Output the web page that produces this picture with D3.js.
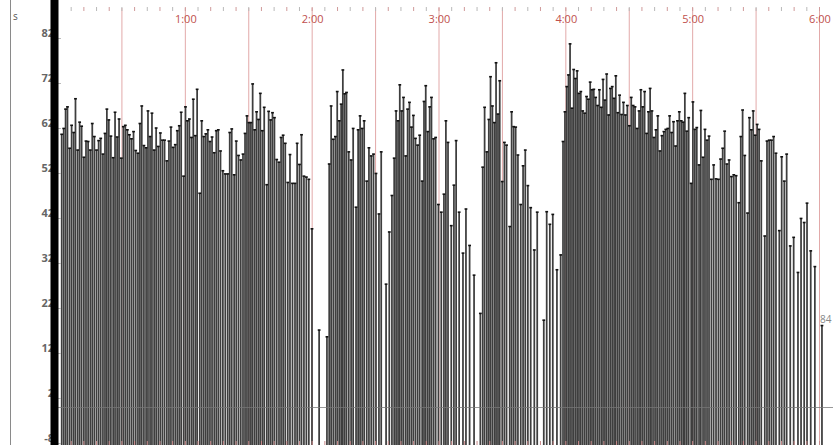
<!DOCTYPE html>
<html>
<head>
<meta charset="utf-8">
<script src="https://cdn.jsdelivr.net/npm/d3@7/dist/d3.min.js"></script>
<style>
  body { margin: 0; background: #fff; }
  svg { display: block; }
</style>
</head>
<body>
<script>
// beat-by-beat rate, one value per beat (interval to previous beat ~ 60 / value)
var bpm = [
  60.6, 61.9, 66.2, 66.7, 57.5, 62.6, 61.0, 68.5, 57.1, 63.3,
  62.4, 55.5, 59.1, 59.0, 57.1, 63.0, 60.1, 57.1, 59.2, 59.7,
  56.2, 60.8, 66.2, 63.8, 60.2, 55.4, 65.5, 60.0, 64.0, 55.3,
  62.3, 62.6, 61.6, 60.5, 59.6, 61.2, 57.0, 56.4, 63.0, 66.9,
  58.1, 57.6, 65.8, 60.1, 65.3, 57.1, 62.0, 57.9, 60.9, 59.3,
  59.3, 54.7, 59.1, 62.2, 57.7, 58.3, 61.4, 62.5, 65.5, 51.3,
  66.7, 63.6, 64.0, 59.9, 68.4, 60.3, 70.6, 47.5, 63.6, 60.1,
  60.7, 61.6, 59.0, 60.0, 56.5, 61.4, 61.6, 56.9, 52.5, 51.8,
  51.8, 61.0, 61.8, 51.6, 59.1, 55.9, 54.9, 56.2, 60.8, 64.7,
  63.2, 63.2, 71.8, 61.6, 65.6, 63.9, 69.7, 61.4, 66.6, 49.4,
  65.7, 63.8, 65.4, 64.3, 55.0, 54.4, 59.9, 60.4, 58.6, 49.9,
  56.1, 49.7, 49.7, 58.6, 53.9, 60.5, 51.3, 51.1, 50.6, 39.6,
  17.1, 15.6,
  54.0, 66.9, 59.5, 60.1, 70.1, 63.6, 67.3, 74.9, 69.6, 69.9,
  56.7, 54.9, 61.9, 44.4, 61.6, 64.7, 61.9, 63.6, 50.2, 57.6,
  55.8, 56.2, 51.9, 42.9, 56.7,
  27.3, 38.9, 47.0, 55.3, 65.8, 63.6, 71.6, 65.8, 68.8, 55.8,
  66.2, 67.7, 62.2, 64.8, 59.7, 58.2, 60.4, 50.2, 67.9, 71.4,
  61.2, 66.7, 68.8, 59.6, 59.9, 45.0, 43.3, 47.3, 63.6, 58.8,
  40.3, 49.3, 59.2, 43.3, 34.2, 44.0, 35.9, 29.3,
  20.8,
  53.3, 66.6, 56.7, 63.9, 73.4, 66.9, 63.2, 76.5, 65.1, 72.5,
  50.1, 58.8, 58.2, 40.1, 65.6, 62.3, 62.2, 56.0, 45.0, 53.6,
  57.1, 49.2, 44.3, 34.9, 43.3,
  19.3, 43.4, 40.6, 42.8, 30.5, 33.8,
  59.0, 65.6, 71.2, 73.8, 80.7, 66.4, 75.0, 73.0, 74.7, 69.7,
  70.1, 65.8, 65.3, 69.0, 68.4, 72.2, 70.5, 70.6, 68.8, 67.0,
  70.5, 66.6, 72.8, 68.2, 74.0, 64.9, 70.8, 71.2, 68.6, 73.6,
  65.4, 69.3, 65.0, 67.7, 64.9, 67.0, 62.5, 68.8, 67.0, 66.7,
  61.9, 65.8, 70.5, 66.7, 70.1,
  60.8, 65.6, 70.8, 65.8, 59.9, 61.6, 64.7, 56.9, 60.3, 61.2,
  61.7, 61.9, 64.7, 61.0, 63.4, 58.0, 63.6, 65.6, 63.6, 63.3,
  69.7, 61.3, 64.3, 49.7, 67.8, 61.7, 62.1, 53.8, 65.9, 55.5,
  61.7, 59.3, 60.2, 50.6, 53.8, 50.7, 50.6, 55.1, 57.5, 61.3,
  54.0, 54.9, 51.2, 51.6, 51.4, 45.4, 60.1, 66.0, 55.9, 43.1,
  64.3, 61.6, 65.8, 60.4, 62.8, 61.7, 54.7,
  38.0, 59.1, 59.3, 59.3, 60.1, 56.4, 39.2, 55.6, 50.2, 56.2,
  35.8, 37.7, 29.9, 41.9, 41.0, 45.3, 34.7, 31.2, 18.1
];
var anchorBeat = [0, 119, 122, 146, 147, 176, 185, 210, 216, 217, 261, 318, 328, 337];
var anchorSec = [1.75, 120.15, 128.3, 152.9, 155.2, 184.5, 199.8, 226.7, 237.8, 238.9, 277.5, 332.7, 344.7, 361.4];

var yTicks = [82, 72, 62, 52, 42, 32, 22, 12, 2, -8];
var minuteLabels = ["1:00", "2:00", "3:00", "4:00", "5:00", "6:00"];
var unitLabel = "s";
var lastValueLabel = "84";

var width = 833, height = 445;

var svg = d3.select("body").append("svg")
  .attr("width", width)
  .attr("height", height);

var x = d3.scaleLinear().domain([0, 360]).range([58, 819]);
var y = d3.scaleLinear().domain([-8, 82]).range([443, 38]);

// beat times: cumulative 60/value, fitted between the read anchors
var cum = [0];
for (var i = 1; i < bpm.length; i++) cum.push(cum[i - 1] + 60 / bpm[i]);
var timeOf = d3.scaleLinear()
  .domain(anchorBeat.map(function (b) { return cum[b]; }))
  .range(anchorSec);
var beats = bpm.map(function (v, i) { return { t: timeOf(cum[i]), v: v }; });

// left border line
svg.append("line")
  .attr("x1", 10.5).attr("x2", 10.5)
  .attr("y1", 0).attr("y2", height)
  .attr("stroke", "#8a8a8a").attr("stroke-width", 1);

svg.append("text")
  .attr("x", 13).attr("y", 20)
  .attr("font-family", "Open Sans, sans-serif")
  .attr("font-size", 10)
  .attr("fill", "#555")
  .text(unitLabel);

// y labels (partly hidden by the black band)
svg.selectAll(".ylab").data(yTicks).enter().append("text")
  .attr("class", "ylab")
  .attr("x", 54)
  .attr("y", function (d) { return y(d) - 1; })
  .attr("text-anchor", "end")
  .attr("font-family", "Open Sans, sans-serif")
  .attr("font-size", 11)
  .attr("font-weight", "bold")
  .attr("fill", "#666")
  .text(function (d) { return d; });

// 30 s grid lines
var halfMinutes = d3.range(30, 361, 30);
svg.selectAll(".grid").data(halfMinutes).enter().append("line")
  .attr("class", "grid")
  .attr("x1", function (d) { return x(d) + 0.5; })
  .attr("x2", function (d) { return x(d) + 0.5; })
  .attr("y1", 8).attr("y2", height)
  .attr("stroke", "#e2a9a9").attr("stroke-width", 1);

// small ticks every 6 s, top and bottom
var smallTicks = d3.range(6, 366, 6);
svg.selectAll(".ttick").data(smallTicks).enter().append("line")
  .attr("class", "ttick")
  .attr("x1", function (d) { return x(d) + 0.5; })
  .attr("x2", function (d) { return x(d) + 0.5; })
  .attr("y1", 7).attr("y2", 11)
  .attr("stroke", function (d, i) { return i % 2 ? "#cf9a9a" : "#b9b9b9"; })
  .attr("stroke-width", 1);

// beats
var g = svg.append("g");
g.selectAll(".bar").data(beats).enter().append("line")
  .attr("class", "bar")
  .attr("x1", function (d) { return x(d.t); })
  .attr("x2", function (d) { return x(d.t); })
  .attr("y1", function (d) { return y(d.v); })
  .attr("y2", height)
  .attr("stroke", "#3e3e3e")
  .attr("stroke-width", 1.75);

g.selectAll(".cap").data(beats).enter().append("line")
  .attr("class", "cap")
  .attr("x1", function (d) { return x(d.t) - 1.4; })
  .attr("x2", function (d) { return x(d.t) + 1.4; })
  .attr("y1", function (d) { return y(d.v); })
  .attr("y2", function (d) { return y(d.v); })
  .attr("stroke", "#111")
  .attr("stroke-width", 1.6);

svg.selectAll(".btick").data(smallTicks).enter().append("line")
  .attr("class", "btick")
  .attr("x1", function (d) { return x(d) + 0.5; })
  .attr("x2", function (d) { return x(d) + 0.5; })
  .attr("y1", height - 4).attr("y2", height)
  .attr("stroke", "#c98a8a").attr("stroke-width", 1);

// zero line
svg.append("line")
  .attr("x1", 58).attr("x2", width)
  .attr("y1", Math.round(y(0)) + 0.5).attr("y2", Math.round(y(0)) + 0.5)
  .attr("stroke", "#777").attr("stroke-opacity", 0.75)
  .attr("stroke-width", 1);

// y tick marks
svg.selectAll(".ytick").data(yTicks).enter().append("line")
  .attr("class", "ytick")
  .attr("x1", 58).attr("x2", 61)
  .attr("y1", function (d) { return Math.round(y(d)) + 0.5; })
  .attr("y2", function (d) { return Math.round(y(d)) + 0.5; })
  .attr("stroke", "#bbb");

// black band
svg.append("rect")
  .attr("x", 50.5).attr("y", 0)
  .attr("width", 8).attr("height", height)
  .attr("fill", "#000");

// minute labels
svg.selectAll(".mlab").data(minuteLabels).enter().append("text")
  .attr("class", "mlab")
  .attr("x", function (d, i) { return x((i + 1) * 60) + 1; })
  .attr("y", 23)
  .attr("text-anchor", "middle")
  .attr("font-family", "Open Sans, sans-serif")
  .attr("font-size", 11)
  .attr("fill", "#c0504d")
  .text(function (d) { return d; });

// last value
svg.append("text")
  .attr("x", 820).attr("y", 323)
  .attr("font-family", "Open Sans, sans-serif")
  .attr("font-size", 10)
  .attr("fill", "#888")
  .text(lastValueLabel);
</script>
</body>
</html>
